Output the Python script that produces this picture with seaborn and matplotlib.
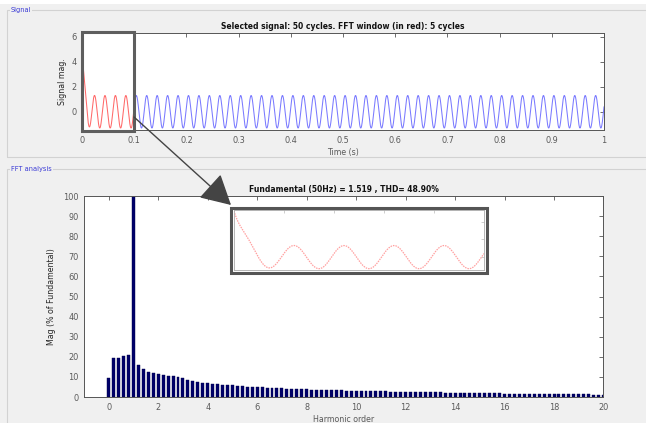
import numpy as np
import pandas as pd
import matplotlib
matplotlib.use("Agg")
import matplotlib.pyplot as plt
from matplotlib.patches import Rectangle, FancyArrowPatch
import seaborn as sns

# ---------------- data ----------------
# signal parameters
FUND_HZ = 50.0          # fundamental frequency
N_CYCLES = 50           # selected signal length (cycles)
FFT_CYCLES = 5          # FFT window (cycles)
AMP = 1.3               # steady-state amplitude
PEAK_T = 0.004          # time of first peak (s)
TRANS_A = 4.8           # initial transient offset
TRANS_TAU = 0.0035      # transient time constant (s)

time_ticks = [0, 0.1, 0.2, 0.3, 0.4, 0.5, 0.6, 0.7, 0.8, 0.9, 1]
time_labels = ["0", "0.1", "0.2", "0.3", "0.4", "0.5", "0.6", "0.7", "0.8", "0.9", "1"]
sig_yticks = [0, 2, 4, 6]

harm_order = np.round(np.arange(0, 20.0001, 0.2), 1)
harm_mag = [
    9.5, 19.2, 19.5, 20.2, 21.0, 100, 15.8, 13.7, 12.4, 12.0,
    11.5, 11.0, 10.5, 10.3, 9.8, 9.3, 8.4, 7.9, 7.6, 7.2,
    6.9, 6.7, 6.5, 6.2, 6.0, 5.8, 5.6, 5.4, 5.2, 5.1,
    4.9, 4.8, 4.7, 4.5, 4.4, 4.3, 4.2, 4.1, 4.0, 3.9,
    3.8, 3.7, 3.6, 3.5, 3.5, 3.4, 3.3, 3.3, 3.2, 3.1,
    3.1, 3.0, 3.0, 2.9, 2.9, 2.8, 2.8, 2.7, 2.7, 2.6,
    2.6, 2.5, 2.5, 2.4, 2.4, 2.4, 2.3, 2.3, 2.2, 2.2,
    2.2, 2.1, 2.1, 2.0, 2.0, 2.0, 1.9, 1.8, 1.8, 1.8,
    1.7, 1.7, 1.7, 1.6, 1.6, 1.6, 1.5, 1.5, 1.5, 1.5,
    1.4, 1.4, 1.4, 1.4, 1.3, 1.3, 1.3, 1.3, 1.2, 1.2,
    1.2,
]
harm_xticks = [0, 2, 4, 6, 8, 10, 12, 14, 16, 18, 20]
mag_yticks = [0, 10, 20, 30, 40, 50, 60, 70, 80, 90, 100]

title_sig = "Selected signal: 50 cycles. FFT window (in red): 5 cycles"
title_fft = "Fundamental (50Hz) = 1.519 , THD= 48.90%"

# ---------------- build signal ----------------
t = np.linspace(0, N_CYCLES / FUND_HZ, 10001)
y = AMP * np.cos(2 * np.pi * FUND_HZ * (t - PEAK_T)) + TRANS_A * np.exp(-t / TRANS_TAU)
win_end = FFT_CYCLES / FUND_HZ
df_sig = pd.DataFrame({"t": t, "y": y})
df_red = df_sig[df_sig.t <= win_end]
df_blue = df_sig[df_sig.t >= win_end]
df_fft = pd.DataFrame({"order": harm_order, "mag": harm_mag})

# ---------------- figure ----------------
sns.set_style("white")
plt.rcParams["font.family"] = ["DejaVu Sans"]
W, H = 646, 423
BG = "#f0f0f0"
fig = plt.figure(figsize=(W / 100, H / 100), dpi=100, facecolor=BG)

def fx(px):
    return px / W

def fy(py):
    return 1 - py / H

tick_col = "#5a5a5a"
lab_fs = 5.7
tick_fs = 5.9
title_fs = 5.5

# white strip at very top
fig.patches.append(Rectangle((0, fy(4.5)), 1, 4.5 / H, transform=fig.transFigure,
                             facecolor="white", edgecolor="none", zorder=0))

# panel frames
for (x0, y0, x1, y1, lab) in [(7, 10, 660, 157, "Signal"), (7, 169, 660, 440, "FFT analysis")]:
    fig.patches.append(Rectangle((fx(x0), fy(y1)), fx(x1 - x0), (y1 - y0) / H,
                                 transform=fig.transFigure, facecolor="none",
                                 edgecolor="#d2d2d2", lw=0.8, zorder=0))
    fig.text(fx(11), fy(y0), lab, fontsize=4.8, color="#3b3bd6", va="center", ha="left",
             bbox=dict(facecolor=BG, edgecolor="none", pad=0.6))

# top axes
ax1 = fig.add_axes([fx(82), fy(130), fx(604 - 82), (130 - 33) / H])
ax1.set_facecolor("white")
sns.lineplot(data=df_blue, x="t", y="y", ax=ax1, color="#7a7aff", lw=0.75,
             estimator=None, sort=False)
sns.lineplot(data=df_red, x="t", y="y", ax=ax1, color="#ff6a6a", lw=0.75,
             estimator=None, sort=False)
ax1.set_xlim(0, 1)
ax1.set_ylim(-1.46, 6.3)
ax1.set_xticks(time_ticks)
ax1.set_xticklabels(time_labels)
ax1.set_yticks(sig_yticks)
ax1.set_xlabel("Time (s)", fontsize=lab_fs, color=tick_col, labelpad=2.5)
ax1.set_ylabel("Signal mag.", fontsize=lab_fs, color="#262626", labelpad=3)
ax1.set_title(title_sig, fontsize=title_fs, fontweight="bold", color="#111111", pad=3)

# bottom axes
ax2 = fig.add_axes([fx(84), fy(397), fx(603.5 - 84), (397 - 196) / H])
ax2.set_facecolor("white")
sns.barplot(data=df_fft, x="order", y="mag", ax=ax2, native_scale=True, width=0.6,
            color="#00006a", edgecolor="#00004a", linewidth=0.3, saturation=1)
ax2.set_xlim(-1, 20)
ax2.set_ylim(0, 100)
ax2.set_xticks(harm_xticks)
ax2.set_xticklabels([str(v) for v in harm_xticks])
ax2.set_yticks(mag_yticks)
ax2.set_xlabel("Harmonic order", fontsize=lab_fs, color=tick_col, labelpad=2.5)
ax2.set_ylabel("Mag (% of Fundamental)", fontsize=lab_fs, color="#262626", labelpad=5)
ax2.set_title(title_fft, fontsize=title_fs, fontweight="bold", color="#111111", pad=3)

for ax in (ax1, ax2):
    ax.tick_params(direction="in", top=True, right=True, length=3, width=0.6,
                   labelsize=tick_fs, labelcolor=tick_col, color="#555555", pad=4)
    for s in ax.spines.values():
        s.set_color("#555555")
        s.set_linewidth(0.7)

# highlight rectangle on top axes
fig.patches.append(Rectangle((fx(82), fy(131)), fx(133.5 - 82), (131 - 32.5) / H,
                             transform=fig.transFigure, facecolor="none",
                             edgecolor="#5e5e5e", lw=2.2, zorder=10))

# inset (zoom of FFT window)
ax3 = fig.add_axes([fx(234), fy(270), fx(484 - 234), (270 - 210) / H])
ax3.set_facecolor("white")
sns.lineplot(data=df_red, x="t", y="y", ax=ax3, color="#ffa0a0", lw=0.9,
             estimator=None, sort=False, linestyle=(0, (1.2, 0.8)))
ax3.set_xlim(0, win_end)
ax3.set_ylim(-1.45, 5.3)
ax3.set_xticks([0.02, 0.04, 0.06, 0.08])
ax3.set_yticks([0, 2, 4])
ax3.tick_params(direction="in", top=True, right=True, length=2, width=0.5,
                labelbottom=False, labelleft=False, color="#bbbbbb")
ax3.set_xlabel("")
ax3.set_ylabel("")
for s in ax3.spines.values():
    s.set_color("#aaaaaa")
    s.set_linewidth(0.6)
fig.patches.append(Rectangle((fx(231.5), fy(272.5)), fx(487 - 231.5), (272.5 - 207.5) / H,
                             transform=fig.transFigure, facecolor="none",
                             edgecolor="#555555", lw=2.2, zorder=10))

# arrow
arr = FancyArrowPatch((fx(134), fy(117)), (fx(231), fy(205)), transform=fig.transFigure,
                      arrowstyle="-|>,head_length=1.1,head_width=0.6", mutation_scale=17,
                      color="#444444", lw=1.0, zorder=11, shrinkA=0, shrinkB=0)
fig.patches.append(arr)

fig.savefig("out.png", dpi=100, facecolor=BG)
